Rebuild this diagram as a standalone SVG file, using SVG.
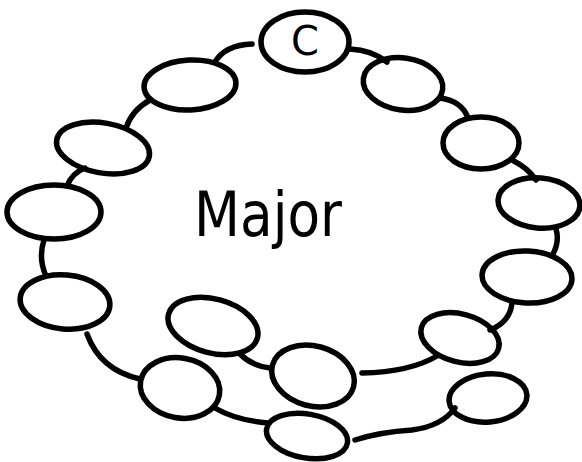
<svg xmlns="http://www.w3.org/2000/svg" width="582" height="462" viewBox="0 0 582 462">
<style>
.n{fill:none;stroke:#000;stroke-width:5.5}
.c path{fill:none;stroke:#000;stroke-width:5.5;stroke-linecap:round}
.t{font-family:"DejaVu Sans","Liberation Sans",sans-serif;fill:#000}
</style>
<rect width="582" height="462" fill="#fff"/>
<g class="c" id="connectors">
<path d="M215,62 Q225,45 252,44"/>
<path d="M350,49 Q372,50 387,62"/>
<path d="M440,98 Q462,101 468,118"/>
<path d="M512,160 Q528,168 536,180"/>
<path d="M556,229 Q560,242 552,256"/>
<path d="M512,303 Q510,322 490,330"/>
<path d="M437,356 Q410,372 362,373"/>
<path d="M240,354 Q252,366 270,368"/>
<path d="M87,334 Q100,370 140,379"/>
<path d="M215,408 Q235,420 268,423"/>
<path d="M355,440 Q380,432 412,430 Q442,426 455,408"/>
<path d="M44,240 Q38,258 46,276"/>
<path d="M85,168 Q72,173 67,186"/>
<path d="M150,100 Q132,110 126,128"/>
</g>
<g id="nC"><ellipse class="n" cx="305" cy="42" rx="44" ry="30"/><text class="t" x="305" y="55" font-size="40" text-anchor="middle">C</text></g>
<g id="nTL"><ellipse class="n" cx="190" cy="85" rx="46" ry="25" transform="rotate(-3 190 85)"/></g>
<g id="nL2"><ellipse class="n" cx="103" cy="148" rx="47" ry="25" transform="rotate(10 103 148)"/></g>
<g id="nL3"><ellipse class="n" cx="54" cy="212" rx="47" ry="27"/></g>
<g id="nL4"><ellipse class="n" cx="65" cy="302" rx="45" ry="27" transform="rotate(5 65 302)"/></g>
<g id="nBL"><ellipse class="n" cx="180" cy="388" rx="40" ry="30" transform="rotate(10 180 388)"/></g>
<g id="nBC"><ellipse class="n" cx="307" cy="436" rx="41" ry="22" transform="rotate(10 307 436)"/></g>
<g id="nBR"><ellipse class="n" cx="488" cy="398" rx="39" ry="24" transform="rotate(-5 488 398)"/></g>
<g id="nIL"><ellipse class="n" cx="213" cy="326" rx="46" ry="27" transform="rotate(15 213 326)"/></g>
<g id="nM"><ellipse class="n" cx="313" cy="376" rx="42" ry="30" transform="rotate(15 313 376)"/></g>
<g id="nR4"><ellipse class="n" cx="460" cy="338" rx="40" ry="24" transform="rotate(15 460 338)"/></g>
<g id="nR3"><ellipse class="n" cx="527" cy="277" rx="45" ry="26" transform="rotate(3 527 277)"/></g>
<g id="nR2"><ellipse class="n" cx="539" cy="203" rx="41" ry="25" transform="rotate(5 539 203)"/></g>
<g id="nR1"><ellipse class="n" cx="481" cy="143" rx="38" ry="26"/></g>
<g id="nTR"><ellipse class="n" cx="403" cy="84" rx="40" ry="26" transform="rotate(8 403 84)"/></g>
<text class="t" x="268" y="236" font-size="62" text-anchor="middle" textLength="148" lengthAdjust="spacingAndGlyphs">Major</text>
</svg>
